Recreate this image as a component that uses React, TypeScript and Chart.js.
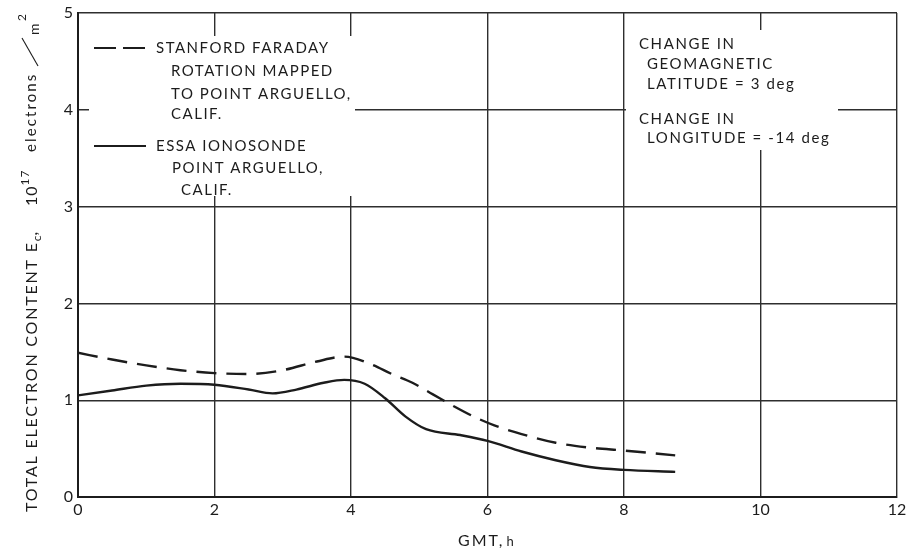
import React, { useEffect, useRef } from "react";
import { Chart, registerables } from "chart.js";

Chart.register(...registerables);

// Axis ticks
const hourTicks = [0, 2, 4, 6, 8, 10, 12];
const contentTicks = [0, 1, 2, 3, 4, 5];

// Stanford Faraday rotation, mapped to Point Arguello (10^17 electrons/m^2)
const faradayHours = [0, 0.5, 1, 1.5, 2, 2.5, 3, 3.5, 3.9, 4.3, 4.6, 4.9, 5.2, 5.5, 5.8, 6.1, 6.5, 7.0, 7.5, 8.0, 8.75];
const faradayContent = [1.49, 1.42, 1.36, 1.31, 1.28, 1.27, 1.31, 1.4, 1.45, 1.37, 1.27, 1.18, 1.06, 0.94, 0.83, 0.74, 0.65, 0.56, 0.51, 0.48, 0.43];

// ESSA ionosonde, Point Arguello (10^17 electrons/m^2)
const ionosondeHours = [0, 0.5, 1, 1.5, 2, 2.5, 2.85, 3.2, 3.6, 3.9, 4.2, 4.5, 4.8, 5.1, 5.6, 6.0, 6.5, 7.0, 7.5, 8.0, 8.75];
const ionosondeContent = [1.05, 1.1, 1.15, 1.17, 1.16, 1.11, 1.07, 1.11, 1.18, 1.21, 1.17, 1.02, 0.83, 0.7, 0.64, 0.58, 0.47, 0.38, 0.31, 0.28, 0.26];

// Legend and note text
const legendFaraday = ["STANFORD FARADAY", "ROTATION MAPPED", "TO POINT ARGUELLO,", "CALIF."];
const legendIonosonde = ["ESSA IONOSONDE", "POINT ARGUELLO,", "CALIF."];
const noteLatitude = ["CHANGE IN", "GEOMAGNETIC", "LATITUDE = 3 deg"];
const noteLongitude = ["CHANGE IN", "LONGITUDE = -14 deg"];

const INK = "#1c1c1c";
const GRID = "#2e2e2e";
const FONT = "Lato, 'Noto Sans', sans-serif";

function toPoints(xs: number[], ys: number[]) {
  return xs.map((x, i) => ({ x, y: ys[i] }));
}

function setSpacing(ctx: CanvasRenderingContext2D, px: number) {
  (ctx as any).letterSpacing = `${px}px`;
}

function drawLines(
  ctx: CanvasRenderingContext2D,
  lines: string[],
  xs: number[],
  ys: number[],
  size: number,
  spacing: number
) {
  ctx.font = `${size}px ${FONT}`;
  setSpacing(ctx, spacing);
  ctx.textBaseline = "middle";
  ctx.textAlign = "left";
  lines.forEach((t, i) => ctx.fillText(t, xs[i], ys[i]));
}

// Rotated y-axis title, written bottom to top from screen y = 512
function drawYTitle(ctx: CanvasRenderingContext2D) {
  ctx.save();
  ctx.translate(37, 512);
  ctx.rotate(-Math.PI / 2);
  ctx.fillStyle = INK;
  ctx.strokeStyle = INK;
  ctx.textBaseline = "alphabetic";
  ctx.textAlign = "left";
  let pos = 0;
  const seg = (text: string, size: number, dy: number, spacing: number, at?: number) => {
    if (at !== undefined) pos = at;
    ctx.font = `${size}px ${FONT}`;
    setSpacing(ctx, spacing);
    ctx.fillText(text, pos, dy);
    pos += ctx.measureText(text).width;
  };
  seg("TOTAL ELECTRON CONTENT E", 16, 0, 1.8);
  seg("c", 12, 4, 0);
  seg(",", 16, 0, 0);
  seg("10", 16, 0, 1, 306);
  seg("17", 12, -8, 1);
  seg("electrons", 15, -1, 2.1, 360);
  // long fraction slash between "electrons" and "m"
  ctx.lineWidth = 1.1;
  ctx.beginPath();
  ctx.moveTo(446, 1);
  ctx.lineTo(474, -15);
  ctx.stroke();
  seg("m", 14, 2, 0, 477);
  seg("2", 12, -11, 0, 491);
  ctx.restore();
}

const figureText = {
  id: "figureText",
  beforeDatasetsDraw(chart: Chart) {
    const ctx = chart.ctx;
    ctx.save();
    ctx.fillStyle = "#ffffff";
    // clear the grid behind the legend block and the note block
    ctx.fillRect(89, 36, 266, 160);
    ctx.fillRect(626, 30, 212, 120);
    ctx.restore();
  },
  afterDraw(chart: Chart) {
    const ctx = chart.ctx;
    ctx.save();
    ctx.fillStyle = INK;
    ctx.strokeStyle = INK;

    // legend samples
    ctx.lineWidth = 2.2;
    ctx.setLineDash([22, 7]);
    ctx.beginPath();
    ctx.moveTo(94, 48);
    ctx.lineTo(146, 48);
    ctx.stroke();
    ctx.setLineDash([]);
    ctx.beginPath();
    ctx.moveTo(94, 146);
    ctx.lineTo(146, 146);
    ctx.stroke();

    drawLines(ctx, legendFaraday, [156, 171, 171, 171], [48, 71, 94, 114], 15, 1.5);
    drawLines(ctx, legendIonosonde, [156, 172, 181], [146, 168, 190], 15, 1.5);
    drawLines(ctx, noteLatitude, [639, 647, 647], [44, 64, 84], 15, 1.6);
    drawLines(ctx, noteLongitude, [639, 647], [119, 138], 15, 1.6);

    drawYTitle(ctx);

    // x-axis title
    ctx.textBaseline = "alphabetic";
    ctx.font = `16px ${FONT}`;
    setSpacing(ctx, 2);
    ctx.fillText("GMT,", 458, 546);
    const w = ctx.measureText("GMT,").width;
    ctx.font = `13px ${FONT}`;
    setSpacing(ctx, 0);
    ctx.fillText("h", 458 + w + 2, 546);
    ctx.restore();
  },
};

export default function App() {
  const canvasRef = useRef<HTMLCanvasElement | null>(null);

  useEffect(() => {
    const canvas = canvasRef.current;
    if (!canvas) return;
    const chart = new Chart(canvas, {
      type: "line",
      data: {
        datasets: [
          {
            label: "STANFORD FARADAY ROTATION MAPPED TO POINT ARGUELLO, CALIF.",
            data: toPoints(faradayHours, faradayContent),
            borderColor: INK,
            borderWidth: 2.4,
            borderDash: [20, 10],
            cubicInterpolationMode: "monotone",
            pointRadius: 0,
            fill: false,
          },
          {
            label: "ESSA IONOSONDE POINT ARGUELLO, CALIF.",
            data: toPoints(ionosondeHours, ionosondeContent),
            borderColor: INK,
            borderWidth: 2.4,
            cubicInterpolationMode: "monotone",
            pointRadius: 0,
            fill: false,
          },
        ],
      },
      options: {
        animation: false,
        responsive: false,
        devicePixelRatio: 1,
        layout: { padding: { left: 0, top: 13, right: 10, bottom: 0 } },
        plugins: {
          legend: { display: false },
          tooltip: { enabled: false },
        },
        scales: {
          x: {
            type: "linear",
            min: 0,
            max: 12,
            afterBuildTicks: (s: any) => {
              s.ticks = hourTicks.map((v) => ({ value: v }));
            },
            afterFit: (s: any) => {
              s.height = 55;
              s.paddingLeft = 0;
              s.paddingRight = 0;
            },
            grid: { color: GRID, lineWidth: 1.4, drawTicks: false },
            border: { color: INK, width: 2 },
            ticks: {
              color: INK,
              font: { family: FONT, size: 16 },
              padding: 3,
              maxRotation: 0,
              autoSkip: false,
            },
          },
          y: {
            type: "linear",
            min: 0,
            max: 5,
            afterBuildTicks: (s: any) => {
              s.ticks = contentTicks.map((v) => ({ value: v }));
            },
            afterFit: (s: any) => {
              s.width = 78;
              s.paddingTop = 0;
              s.paddingBottom = 0;
            },
            grid: { color: GRID, lineWidth: 1.4, drawTicks: false },
            border: { color: INK, width: 2 },
            ticks: {
              color: INK,
              font: { family: FONT, size: 16 },
              padding: 5,
              autoSkip: false,
            },
          },
        },
      },
      plugins: [figureText],
    });
    return () => chart.destroy();
  }, []);

  return (
    <div
      style={{
        position: "fixed",
        left: 0,
        top: 0,
        width: 907,
        height: 552,
        background: "#ffffff",
      }}
    >
      <canvas ref={canvasRef} width={907} height={552} style={{ display: "block" }} />
    </div>
  );
}
